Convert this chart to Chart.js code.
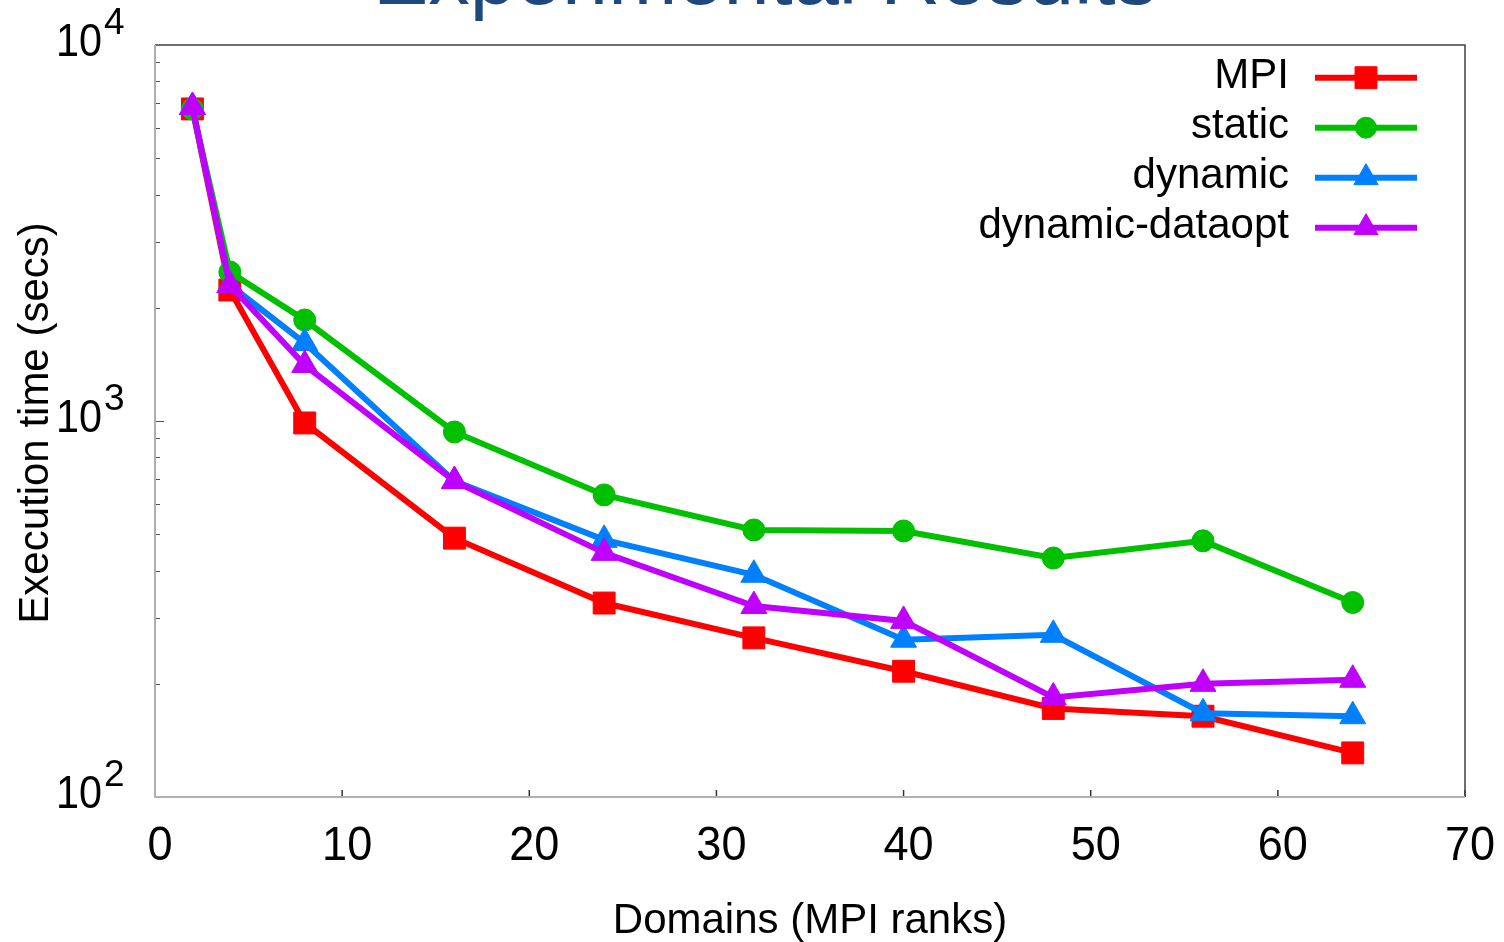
<!DOCTYPE html>
<html><head><meta charset="utf-8">
<script src="https://cdn.jsdelivr.net/npm/chart.js@4.4.1/dist/chart.umd.min.js"></script>
<style>html,body{margin:0;padding:0;background:#fff;overflow:hidden}#wrap{width:1504px;height:942px;position:relative}</style>
</head><body><div id="wrap"><canvas id="c"></canvas></div>
<script>
const titleText = 'Experimental Results';
const xTitle = 'Domains (MPI ranks)';
const yTitle = 'Execution time (secs)';
const domains = [2, 4, 8, 16, 24, 32, 40, 48, 56, 64];
const seriesNames = ['MPI', 'static', 'dynamic', 'dynamic-dataopt'];
const mpiTimes = [6760, 2230, 988, 488, 328, 265, 216, 172, 164, 131];
const staticTimes = [6760, 2490, 1856, 935, 636, 513, 510, 432, 480, 329];
const dynamicTimes = [6840, 2300, 1612, 692, 483, 390, 262, 270, 167, 164];
const dataoptTimes = [6840, 2297, 1409, 692, 446, 322, 294, 184, 200, 205];
const xTickValues = [0, 10, 20, 30, 40, 50, 60, 70];
const yTickExponents = [2, 3, 4];

const FONT = '"Liberation Sans", Arial, sans-serif';
const colors = ['#ff0000', '#00c000', '#0080ff', '#c000ff'];
const styles = ['rect', 'circle', 'triangle', 'triangle'];
const radii = [15.5, 11, 15, 15];
const legendRadii = [15.5, 10.5, 14, 14];
const allSeries = [mpiTimes, staticTimes, dynamicTimes, dataoptTimes];

const datasets = allSeries.map((vals, i) => ({
  label: seriesNames[i],
  data: domains.map((d, j) => ({x: d, y: vals[j]})),
  borderColor: colors[i],
  backgroundColor: colors[i],
  pointBackgroundColor: colors[i],
  pointBorderColor: colors[i],
  pointBorderWidth: 1,
  pointStyle: styles[i],
  pointRadius: radii[i],
  pointHoverRadius: radii[i],
  borderWidth: 6,
  tension: 0,
  fill: false,
  order: 4 - i
}));

const decor = {
  id: 'decor',
  beforeDatasetsDraw(chart) {
    const ctx = chart.ctx, a = chart.chartArea;
    const xs = chart.scales.x, ys = chart.scales.y;
    ctx.save();
    ctx.strokeStyle = '#555';
    ctx.lineWidth = 1;
    for (let e = 2; e < 4; e++) {
      for (let m = 1; m <= 9; m++) {
        const v = m * Math.pow(10, e);
        const py = Math.round(ys.getPixelForValue(v)) + 0.5;
        const len = m === 1 ? 9 : 5;
        ctx.beginPath(); ctx.moveTo(a.left, py); ctx.lineTo(a.left + len, py); ctx.stroke();
      }
    }
    ctx.strokeStyle = '#333';
    ctx.lineWidth = 1.5;
    xTickValues.forEach(v => {
      const px = xs.getPixelForValue(v);
      ctx.beginPath(); ctx.moveTo(px, a.bottom); ctx.lineTo(px, a.bottom - 7); ctx.stroke();
    });
    ctx.strokeStyle = '#404040';
    ctx.lineWidth = 1.5;
    ctx.beginPath(); ctx.moveTo(a.left, a.top); ctx.lineTo(a.right, a.top); ctx.lineTo(a.right, a.bottom); ctx.stroke();
    ctx.strokeStyle = '#b0b0b0';
    ctx.lineWidth = 2;
    ctx.beginPath(); ctx.moveTo(a.left, a.top); ctx.lineTo(a.left, a.bottom); ctx.lineTo(a.right, a.bottom); ctx.stroke();
    ctx.restore();
  },
  afterDraw(chart) {
    const ctx = chart.ctx, a = chart.chartArea;
    const xs = chart.scales.x, ys = chart.scales.y;
    ctx.save();
    ctx.fillStyle = '#1f497d';
    ctx.font = '83px ' + FONT;
    ctx.textAlign = 'center';
    ctx.textBaseline = 'alphabetic';
    ctx.fillText(titleText, 765, 4);
    ctx.fillStyle = '#000';
    ctx.font = '49px ' + FONT;
    xTickValues.forEach(v => {
      const px = xs.getPixelForValue(v) + 5;
      ctx.save(); ctx.translate(px, 860); ctx.scale(0.92, 1);
      ctx.textAlign = 'center'; ctx.fillText(String(v), 0, 0);
      ctx.restore();
    });
    yTickExponents.forEach(e => {
      const py = ys.getPixelForValue(Math.pow(10, e));
      ctx.save(); ctx.translate(102, py + 11); ctx.scale(0.88, 1);
      ctx.font = '47px ' + FONT; ctx.textAlign = 'right'; ctx.fillText('10', 0, 0);
      ctx.restore();
      ctx.font = '37px ' + FONT; ctx.textAlign = 'left';
      ctx.fillText(String(e), 104, py - 11);
    });
    ctx.font = '42px ' + FONT;
    ctx.textAlign = 'center';
    ctx.fillText(xTitle, (a.left + a.right) / 2, 933);
    ctx.save(); ctx.translate(48, 423); ctx.rotate(-Math.PI / 2);
    ctx.fillText(yTitle, 0, 0);
    ctx.restore();
    seriesNames.forEach((name, i) => {
      const ly = 77.7 + 50 * i;
      ctx.fillStyle = '#000';
      ctx.font = '42px ' + FONT;
      ctx.textAlign = 'right';
      ctx.fillText(name, 1289, ly + 10.5);
      ctx.strokeStyle = colors[i];
      ctx.lineWidth = 6;
      ctx.beginPath(); ctx.moveTo(1315, ly); ctx.lineTo(1417, ly); ctx.stroke();
      ctx.fillStyle = colors[i];
      ctx.lineWidth = 1;
      Chart.helpers.drawPoint(ctx, {pointStyle: styles[i], rotation: 0, radius: legendRadii[i], borderWidth: 1}, 1366, ly);
    });
    ctx.restore();
  }
};

new Chart(document.getElementById('c'), {
  type: 'line',
  data: {datasets},
  plugins: [decor],
  options: {
    responsive: true,
    maintainAspectRatio: false,
    animation: false,
    events: [],
    layout: {padding: {left: 0, right: 39, top: 45, bottom: 0}},
    plugins: {legend: {display: false}, title: {display: false}, tooltip: {enabled: false}},
    scales: {
      x: {
        type: 'linear', min: 0, max: 70,
        grid: {display: false}, border: {display: false},
        ticks: {display: false, stepSize: 10},
        afterFit(s) { s.height = 145; }
      },
      y: {
        type: 'logarithmic', min: 100, max: 10000,
        grid: {display: false}, border: {display: false},
        ticks: {display: false},
        afterFit(s) { s.width = 155; }
      }
    }
  }
});
</script></body></html>
